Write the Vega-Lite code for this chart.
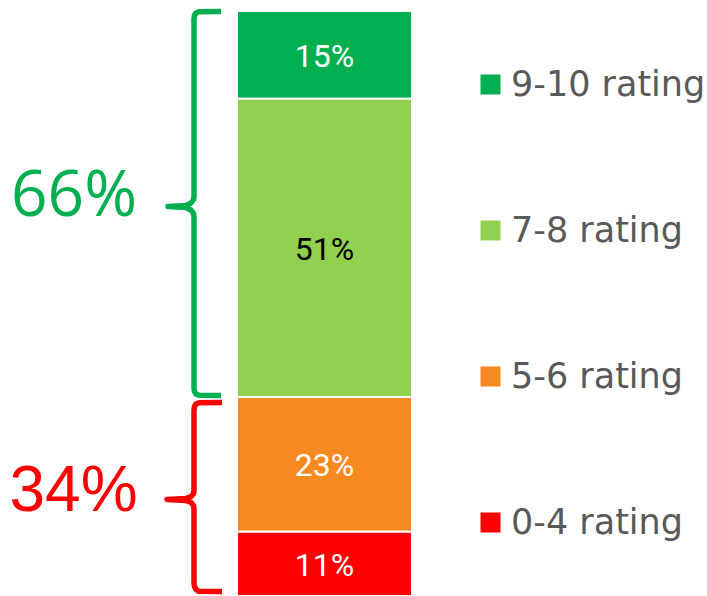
{
  "$schema": "https://vega.github.io/schema/vega-lite/v6.json",
  "width": 707,
  "height": 585,
  "padding": {"top": 11, "left": 0, "right": 0, "bottom": 0},
  "autosize": {"type": "none"},
  "background": "white",
  "config": {"view": {"stroke": null}},
  "datasets": {
    "ratings": [
      {"rating": "9-10 rating", "share": 0.15},
      {"rating": "7-8 rating", "share": 0.51},
      {"rating": "5-6 rating", "share": 0.23},
      {"rating": "0-4 rating", "share": 0.11}
    ],
    "braces": [
      {"brace": "top", "i": 1, "u": -0.0914, "v": 0.9991},
      {"brace": "top", "i": 2, "u": -0.2171, "v": 0.9988},
      {"brace": "top", "i": 3, "u": -0.2343, "v": 0.9966},
      {"brace": "top", "i": 4, "u": -0.2429, "v": 0.9923},
      {"brace": "top", "i": 5, "u": -0.2457, "v": 0.9863},
      {"brace": "top", "i": 6, "u": -0.2457, "v": 0.6838},
      {"brace": "top", "i": 7, "u": -0.2486, "v": 0.6778},
      {"brace": "top", "i": 8, "u": -0.2629, "v": 0.6718},
      {"brace": "top", "i": 9, "u": -0.2914, "v": 0.6675},
      {"brace": "top", "i": 10, "u": -0.3943, "v": 0.6658},
      {"brace": "top", "i": 11, "u": -0.2914, "v": 0.6641},
      {"brace": "top", "i": 12, "u": -0.2629, "v": 0.6598},
      {"brace": "top", "i": 13, "u": -0.2486, "v": 0.6538},
      {"brace": "top", "i": 14, "u": -0.2457, "v": 0.6479},
      {"brace": "top", "i": 15, "u": -0.2457, "v": 0.3556},
      {"brace": "top", "i": 16, "u": -0.2429, "v": 0.3496},
      {"brace": "top", "i": 17, "u": -0.2343, "v": 0.3453},
      {"brace": "top", "i": 18, "u": -0.2171, "v": 0.3431},
      {"brace": "top", "i": 19, "u": -0.0914, "v": 0.3427},
      {"brace": "bottom", "i": 1, "u": -0.0857, "v": 0.3308},
      {"brace": "bottom", "i": 2, "u": -0.2171, "v": 0.3304},
      {"brace": "bottom", "i": 3, "u": -0.2343, "v": 0.3282},
      {"brace": "bottom", "i": 4, "u": -0.2429, "v": 0.3239},
      {"brace": "bottom", "i": 5, "u": -0.2457, "v": 0.3179},
      {"brace": "bottom", "i": 6, "u": -0.2457, "v": 0.1812},
      {"brace": "bottom", "i": 7, "u": -0.2486, "v": 0.1752},
      {"brace": "bottom", "i": 8, "u": -0.2629, "v": 0.1701},
      {"brace": "bottom", "i": 9, "u": -0.2914, "v": 0.1667},
      {"brace": "bottom", "i": 10, "u": -0.4, "v": 0.1650},
      {"brace": "bottom", "i": 11, "u": -0.2914, "v": 0.1632},
      {"brace": "bottom", "i": 12, "u": -0.2629, "v": 0.1598},
      {"brace": "bottom", "i": 13, "u": -0.2486, "v": 0.1547},
      {"brace": "bottom", "i": 14, "u": -0.2457, "v": 0.1487},
      {"brace": "bottom", "i": 15, "u": -0.2457, "v": 0.0222},
      {"brace": "bottom", "i": 16, "u": -0.2429, "v": 0.0162},
      {"brace": "bottom", "i": 17, "u": -0.2343, "v": 0.0111},
      {"brace": "bottom", "i": 18, "u": -0.2171, "v": 0.0080},
      {"brace": "bottom", "i": 19, "u": -0.0857, "v": 0.0077}
    ]
  },
  "layer": [
    {
      "data": {"name": "ratings"},
      "transform": [
        {"stack": "share", "groupby": [], "sort": [{"field": "rating", "order": "ascending"}], "as": ["y0", "y1"]}
      ],
      "mark": {"type": "bar", "stroke": "white", "strokeWidth": 2},
      "encoding": {
        "x": {"datum": 0, "type": "quantitative", "scale": {"domain": [-1.3543, 2.6857], "nice": false, "zero": false}, "axis": null},
        "x2": {"datum": 1},
        "y": {"field": "y0", "type": "quantitative", "scale": {"domain": [0, 1], "nice": false}, "axis": null},
        "y2": {"field": "y1"},
        "color": {
          "field": "rating",
          "type": "nominal",
          "scale": {
            "domain": ["9-10 rating", "7-8 rating", "5-6 rating", "0-4 rating"],
            "range": ["#00B050", "#92D050", "#F6891F", "#FF0000"]
          },
          "legend": {
            "orient": "none",
            "legendX": 473,
            "legendY": 56,
            "title": null,
            "padding": 0,
            "symbolType": "square",
            "symbolSize": 400,
            "symbolStrokeWidth": 0,
            "symbolOffset": 0,
            "labelFont": "DejaVu Sans",
            "labelFontSize": 35,
            "labelColor": "#595959",
            "labelOffset": 3,
            "labelLimit": 400,
            "rowPadding": 110
          }
        }
      }
    },
    {
      "data": {"name": "ratings"},
      "mark": {"type": "text", "font": "Roboto", "fontSize": 32, "baseline": "middle", "align": "center", "dy": 2},
      "encoding": {
        "x": {"datum": 0.5, "type": "quantitative", "scale": {"domain": [-1.3543, 2.6857], "nice": false, "zero": false}, "axis": null},
        "y": {"field": "share", "type": "quantitative", "stack": "zero", "bandPosition": 0.5, "scale": {"domain": [0, 1], "nice": false}, "axis": null},
        "order": {"field": "rating", "sort": "ascending"},
        "detail": {"field": "rating"},
        "text": {"field": "share", "type": "quantitative", "format": ".0%"},
        "color": {"condition": {"test": "datum.rating === '7-8 rating'", "value": "#000000"}, "value": "#FFFFFF"}
      }
    },
    {
      "data": {"name": "braces"},
      "transform": [{"filter": "datum.brace === 'top'"}],
      "mark": {"type": "line", "color": "#00B050", "strokeWidth": 5.5, "strokeJoin": "round", "strokeCap": "butt"},
      "encoding": {
        "x": {"field": "u", "type": "quantitative", "scale": {"domain": [-1.3543, 2.6857], "nice": false, "zero": false}, "axis": null},
        "y": {"field": "v", "type": "quantitative", "scale": {"domain": [0, 1], "nice": false}, "axis": null},
        "order": {"field": "i"}
      }
    },
    {
      "data": {"name": "braces"},
      "transform": [{"filter": "datum.brace === 'bottom'"}],
      "mark": {"type": "line", "color": "#FF0000", "strokeWidth": 5.5, "strokeJoin": "round", "strokeCap": "butt"},
      "encoding": {
        "x": {"field": "u", "type": "quantitative", "scale": {"domain": [-1.3543, 2.6857], "nice": false, "zero": false}, "axis": null},
        "y": {"field": "v", "type": "quantitative", "scale": {"domain": [0, 1], "nice": false}, "axis": null},
        "order": {"field": "i"}
      }
    },
    {
      "data": {"values": [{"label": "66%"}]},
      "mark": {"type": "text", "font": "Open Sans", "fontSize": 64, "color": "#00B050", "align": "center", "baseline": "middle"},
      "encoding": {
        "x": {"datum": -0.931, "type": "quantitative", "scale": {"domain": [-1.3543, 2.6857], "nice": false, "zero": false}, "axis": null},
        "y": {"datum": 0.682, "type": "quantitative", "scale": {"domain": [0, 1], "nice": false}, "axis": null},
        "text": {"field": "label"}
      }
    },
    {
      "data": {"values": [{"label": "34%"}]},
      "mark": {"type": "text", "font": "Liberation Sans", "fontSize": 64, "color": "#FF0000", "align": "center", "baseline": "middle"},
      "encoding": {
        "x": {"datum": -0.934, "type": "quantitative", "scale": {"domain": [-1.3543, 2.6857], "nice": false, "zero": false}, "axis": null},
        "y": {"datum": 0.1785, "type": "quantitative", "scale": {"domain": [0, 1], "nice": false}, "axis": null},
        "text": {"field": "label"}
      }
    }
  ]
}
